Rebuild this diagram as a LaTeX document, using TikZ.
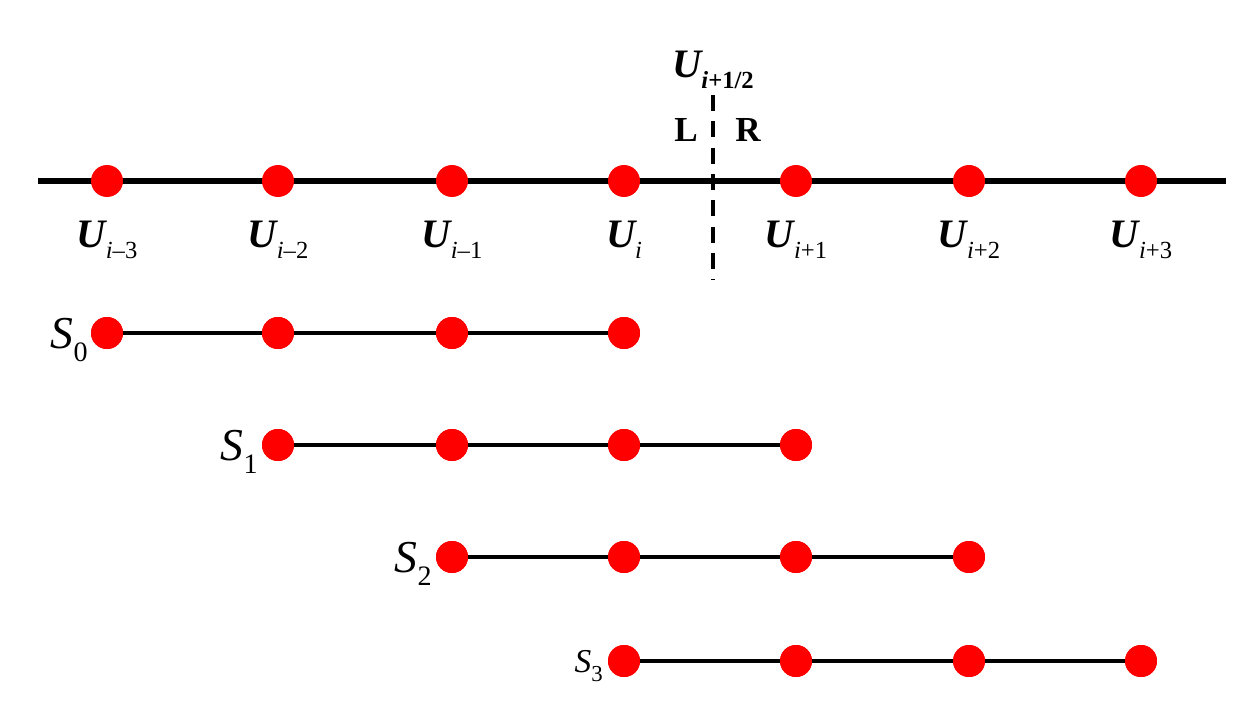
\documentclass[tikz,border=0pt]{standalone}
\usepackage{fontspec}
\setmainfont{Liberation Serif}
\newcommand{\Ulab}[1]{{\bfseries\itshape U}\raisebox{-6pt}{\fontsize{14}{16}\selectfont #1}}
\begin{document}
\begin{tikzpicture}[x=0.02cm,y=-0.02cm,
  pt/.style={circle,fill=red,inner sep=0pt,minimum size=32*0.02cm},
  lbl/.style={font=\fontsize{23}{26}\selectfont},
  ln/.style={line width=2.2pt}]
\useasboundingbox (0,0) rectangle (1256,726);
\coordinate (a) at (38,181); \coordinate (b) at (1226,181);
\draw[line width=3pt] (a) -- (b);
\foreach \n/\x in {m3/107,m2/278,m1/452,z/624,p1/796,p2/969,p3/1141}
  \node[pt] (u\n) at (\x,181) {};
\foreach \n/\x/\s in {m3/107/{\itshape i\upshape–3},m2/278/{\itshape i\upshape–2},m1/452/{\itshape i\upshape–1},z/624/{\itshape i},p1/796/{\itshape i\upshape+1},p2/969/{\itshape i\upshape+2},p3/1141/{\itshape i\upshape+3}}
  \node[lbl] (l\n) at (\x,240) {\Ulab{\s}};
\coordinate (dt) at (713,95); \coordinate (db) at (713,280);
\draw[line width=2pt,dash pattern=on 9pt off 6pt] (dt) -- (db);
\node[lbl] (half) at (713,70) {\Ulab{\bfseries\itshape i\upshape+1/2}};
\node[font=\fontsize{20}{24}\selectfont\bfseries] (L) at (686,130) {L};
\node[font=\fontsize{20}{24}\selectfont\bfseries] (R) at (748,130) {R};
\foreach \r/\y/\xs in {0/333/{107,278,452,624},1/445/{278,452,624,796},2/557/{452,624,796,969},3/661/{624,796,969,1141}}{
  \foreach \x [count=\k] in \xs { \node[pt] (s\r\k) at (\x,\y) {}; }
  \draw[ln] (s\r1) -- (s\r4);
  \foreach \k in {1,...,4} \node[pt] at (s\r\k) {};
}
\tikzset{slab/.style={anchor=east,font=\fontsize{26}{28}\selectfont}}
\node[slab] (S0) at (94,340) {\textit{S}\raisebox{-7pt}{\fontsize{16}{16}\selectfont 0}};
\node[slab] (S1) at (264,452) {\textit{S}\raisebox{-7pt}{\fontsize{16}{16}\selectfont 1}};
\node[slab] (S2) at (438,564) {\textit{S}\raisebox{-7pt}{\fontsize{16}{16}\selectfont 2}};
\node[anchor=east,font=\fontsize{19}{20}\selectfont] (S3) at (609,666) {\textit{S}\raisebox{-5pt}{\fontsize{13}{14}\selectfont 3}};
\end{tikzpicture}
\end{document}
